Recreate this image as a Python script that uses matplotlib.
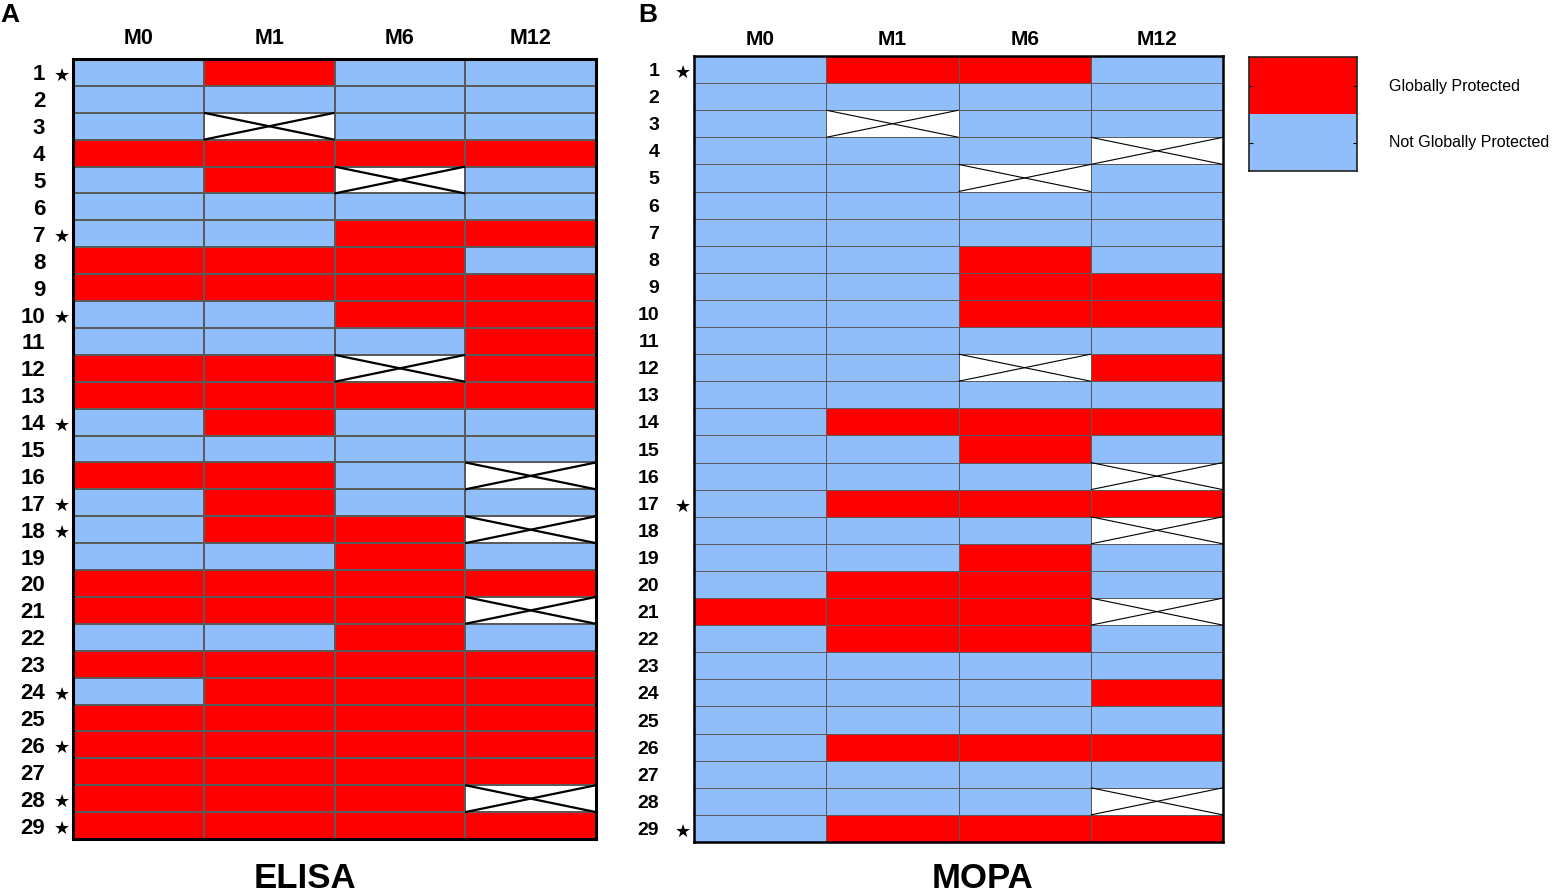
import numpy as np
import matplotlib
matplotlib.use("Agg")
import matplotlib.pyplot as plt
from matplotlib.colors import ListedColormap, BoundaryNorm

# ---- data: 1 = Globally Protected, 0 = Not Globally Protected, -1 = missing ----
timepoints = ["M0", "M1", "M6", "M12"]
subjects = [str(i) for i in range(1, 30)]

elisa = [
    [0, 1, 0, 0], [0, 0, 0, 0], [0, -1, 0, 0], [1, 1, 1, 1], [0, 1, -1, 0],
    [0, 0, 0, 0], [0, 0, 1, 1], [1, 1, 1, 0], [1, 1, 1, 1], [0, 0, 1, 1],
    [0, 0, 0, 1], [1, 1, -1, 1], [1, 1, 1, 1], [0, 1, 0, 0], [0, 0, 0, 0],
    [1, 1, 0, -1], [0, 1, 0, 0], [0, 1, 1, -1], [0, 0, 1, 0], [1, 1, 1, 1],
    [1, 1, 1, -1], [0, 0, 1, 0], [1, 1, 1, 1], [0, 1, 1, 1], [1, 1, 1, 1],
    [1, 1, 1, 1], [1, 1, 1, 1], [1, 1, 1, -1], [1, 1, 1, 1],
]
elisa_stars = [1, 7, 10, 14, 17, 18, 24, 26, 28, 29]

mopa = [
    [0, 1, 1, 0], [0, 0, 0, 0], [0, -1, 0, 0], [0, 0, 0, -1], [0, 0, -1, 0],
    [0, 0, 0, 0], [0, 0, 0, 0], [0, 0, 1, 0], [0, 0, 1, 1], [0, 0, 1, 1],
    [0, 0, 0, 0], [0, 0, -1, 1], [0, 0, 0, 0], [0, 1, 1, 1], [0, 0, 1, 0],
    [0, 0, 0, -1], [0, 1, 1, 1], [0, 0, 0, -1], [0, 0, 1, 0], [0, 1, 1, 0],
    [1, 1, 1, -1], [0, 1, 1, 0], [0, 0, 0, 0], [0, 0, 0, 1], [0, 0, 0, 0],
    [0, 1, 1, 1], [0, 0, 0, 0], [0, 0, 0, -1], [0, 1, 1, 1],
]
mopa_stars = [1, 17, 29]

legend_labels = ["Globally Protected", "Not Globally Protected"]

RED = "#FF0000"
BLUE = "#8FBEFA"
cmap = ListedColormap(["white", BLUE, RED])
norm = BoundaryNorm([-1.5, -0.5, 0.5, 1.5], cmap.N)

W, H = 1553, 894
fig = plt.figure(figsize=(W / 100, H / 100), dpi=100)
FONT = "Liberation Sans"


def px_axes(x0, y0, x1, y1):
    return fig.add_axes([x0 / W, 1 - y1 / H, (x1 - x0) / W, (y1 - y0) / H])


def draw_panel(ax, data, stars, gridw, xw, borderw, lab_pad, lab_size, col_size, col_pad):
    arr = np.array(data)
    nr, nc = arr.shape
    ax.pcolormesh(np.arange(nc + 1), np.arange(nr + 1), arr, cmap=cmap, norm=norm,
                  edgecolors="#5a5a5a", linewidth=gridw)
    for r, c in zip(*np.where(arr == -1)):
        ax.plot([c, c + 1], [r, r + 1], color="black", lw=xw, solid_capstyle="butt")
        ax.plot([c, c + 1], [r + 1, r], color="black", lw=xw, solid_capstyle="butt")
    ax.set_xlim(0, nc)
    ax.set_ylim(nr, 0)
    ax.set_xticks(np.arange(nc) + 0.5)
    ax.set_xticklabels(timepoints, fontfamily=FONT, fontweight="bold", fontsize=col_size)
    ax.xaxis.tick_top()
    ax.set_yticks(np.arange(nr) + 0.5)
    ax.set_yticklabels(subjects, fontfamily=FONT, fontweight="bold", fontsize=lab_size)
    ax.tick_params(axis="y", length=0, pad=lab_pad)
    ax.tick_params(axis="x", length=0, pad=col_pad)
    for s in ax.spines.values():
        s.set_linewidth(borderw)
        s.set_color("black")
    for s in stars:
        ax.text(-0.084, s - 0.5 + 0.13, "\u2605", ha="center", va="center",
                fontsize=13, color="black", family="DejaVu Sans", clip_on=False)


ax1 = px_axes(73, 59, 596, 839)
draw_panel(ax1, elisa, elisa_stars, 1.2, 1.6, 2.2, 20, 16, 15.5, 7)

ax2 = px_axes(694, 56, 1223, 842)
draw_panel(ax2, mopa, mopa_stars, 0.55, 0.8, 1.8, 25, 14, 15, 5)

# legend block
axl = px_axes(1249, 57, 1357, 171)
axl.pcolormesh([0, 1], [0, 1, 2], np.array([[1], [0]]), cmap=cmap, norm=norm)
axl.set_xlim(0, 1)
axl.set_ylim(2, 0)
axl.set_xticks([])
axl.set_yticks([0.5, 1.5])
axl.set_yticklabels([])
axl.tick_params(axis="y", left=True, right=True, direction="in", length=3, width=0.8)
for s in axl.spines.values():
    s.set_linewidth(1.2)
    s.set_color("#222222")
fig.text(1389 / W, 1 - 86 / H, legend_labels[0], ha="left", va="center",
         fontfamily=FONT, fontsize=11.5)
fig.text(1389 / W, 1 - 142 / H, legend_labels[1], ha="left", va="center",
         fontfamily=FONT, fontsize=11.5)

# titles and panel letters
fig.text(305 / W, 1 - 878 / H, "ELISA", ha="center", va="center",
         fontfamily=FONT, fontweight="bold", fontsize=25)
fig.text(983 / W, 1 - 878 / H, "MOPA", ha="center", va="center",
         fontfamily=FONT, fontweight="bold", fontsize=25)
fig.text(0 / W, 1 - 15 / H, "A", ha="left", va="center",
         fontfamily=FONT, fontweight="bold", fontsize=19)
fig.text(638 / W, 1 - 15 / H, "B", ha="left", va="center",
         fontfamily=FONT, fontweight="bold", fontsize=19)

fig.savefig("out.png", dpi=100)
